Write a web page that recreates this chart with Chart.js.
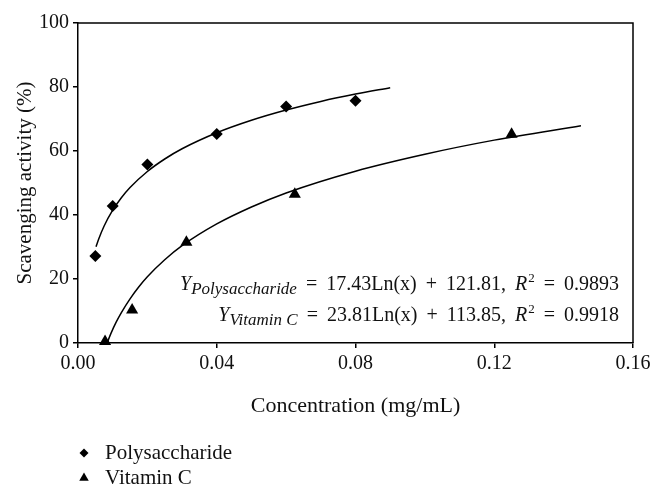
<!DOCTYPE html>
<html lang="en">
<head>
<meta charset="UTF-8">
<title>Scavenging activity</title>
<script src="https://cdn.jsdelivr.net/npm/chart.js"></script>
<style>
  body { margin: 0; background: #fff; }
  #chartBox { width: 662px; height: 499px; }
</style>
</head>
<body>
<div id="chartBox"><canvas id="scavCanvas" width="662" height="499"></canvas></div>
<script>
// measured points
const polyX = [0.005, 0.01, 0.02, 0.04, 0.06, 0.08];
const polyY = [27.2, 42.8, 55.8, 65.3, 73.9, 75.7];
const vitX = [0.0078, 0.0156, 0.03125, 0.0625, 0.125];
const vitY = [0.5, 10.3, 31.5, 46.5, 65.2];

// log trend lines
const polyFitX = [0.0052, 0.006, 0.0075, 0.01, 0.0125, 0.015, 0.02, 0.025, 0.03, 0.04, 0.05, 0.06, 0.07, 0.08, 0.09];
const polyFitY = [30.1, 32.6, 36.5, 41.5, 45.4, 48.6, 53.6, 57.5, 60.7, 65.7, 69.6, 72.8, 75.5, 77.8, 79.8];
const vitFitX = [0.0085, 0.0095, 0.011, 0.0125, 0.015, 0.0175, 0.02, 0.025, 0.03, 0.04, 0.05, 0.06, 0.08, 0.1, 0.12, 0.145];
const vitFitY = [0.3, 3.0, 6.5, 9.5, 13.8, 17.5, 20.7, 26.0, 30.4, 37.2, 42.5, 46.9, 53.7, 59.0, 63.4, 67.9];

const xTicks = [0, 0.04, 0.08, 0.12, 0.16];
const yTicks = [0, 20, 40, 60, 80, 100];

const seriesNames = ['Polysaccharide', 'Vitamin C'];
const equations = [
  { sub: 'Polysaccharide', slope: '17.43', icpt: '121.81', r2: '0.9893' },
  { sub: 'Vitamin C', slope: '23.81', icpt: '113.85', r2: '0.9918' }
];

const serif = '"Liberation Serif", "Times New Roman", serif';
const ink = '#111';

const toXY = (xs, ys) => xs.map((x, i) => ({ x: x, y: ys[i] }));

function marker(ctx, style, x, y, r) {
  ctx.beginPath();
  if (style === 'rectRot') {
    ctx.moveTo(x - r, y); ctx.lineTo(x, y - r); ctx.lineTo(x + r, y); ctx.lineTo(x, y + r);
  } else {
    const s = Math.sin(Math.PI / 3) * r;
    ctx.moveTo(x, y - r); ctx.lineTo(x + s, y + r / 2); ctx.lineTo(x - s, y + r / 2);
  }
  ctx.closePath();
  ctx.fill();
}

const framePlugin = {
  id: 'frame',
  beforeDatasetsDraw(chart) {
    const { ctx, chartArea: a } = chart;
    ctx.save();
    ctx.strokeStyle = '#000';
    ctx.lineWidth = 1.5;
    ctx.beginPath();
    ctx.moveTo(a.left, a.top);
    ctx.lineTo(a.right, a.top);
    ctx.lineTo(a.right, a.bottom);
    ctx.stroke();
    ctx.restore();
  }
};

const textPlugin = {
  id: 'notes',
  afterDraw(chart) {
    const ctx = chart.ctx;
    ctx.save();
    ctx.fillStyle = ink;
    ctx.textBaseline = 'alphabetic';

    // equations, right aligned
    const gap = 9;
    const rightEdge = 619;
    equations.forEach((eq, k) => {
      const base = 290 + k * 31;
      const parts = [
        ['Y', 'italic', 20, 0, 0],
        [eq.sub, 'italic', 17, 4, gap],
        ['=', 'normal', 20, 0, gap],
        [eq.slope + 'Ln(x)', 'normal', 20, 0, gap],
        ['+', 'normal', 20, 0, gap],
        [eq.icpt + ',', 'normal', 20, 0, gap],
        ['R', 'italic', 20, 0, 1],
        ['2', 'normal', 13, -8, gap],
        ['=', 'normal', 20, 0, gap],
        [eq.r2, 'normal', 20, 0, 0]
      ];
      let total = 0;
      parts.forEach(p => {
        ctx.font = p[1] + ' ' + p[2] + 'px ' + serif;
        p.w = ctx.measureText(p[0]).width;
        total += p.w + p[4];
      });
      let x = rightEdge - total;
      parts.forEach(p => {
        ctx.font = p[1] + ' ' + p[2] + 'px ' + serif;
        ctx.fillText(p[0], x, base + p[3]);
        x += p.w + p[4];
      });
    });

    // legend under the chart
    ctx.font = '21px ' + serif;
    ctx.textBaseline = 'middle';
    const styles = ['rectRot', 'triangle'];
    seriesNames.forEach((name, i) => {
      const y = 453 + i * 25;
      ctx.fillStyle = '#000';
      marker(ctx, styles[i], 84, y, styles[i] === 'rectRot' ? 4.5 : 5.5);
      ctx.fillStyle = ink;
      ctx.fillText(name, 105, y);
    });
    ctx.restore();
  }
};

new Chart(document.getElementById('scavCanvas'), {
  type: 'scatter',
  data: {
    datasets: [
      {
        label: seriesNames[0] + ' fit',
        data: toXY(polyFitX, polyFitY),
        showLine: true,
        borderColor: '#000',
        borderWidth: 1.5,
        pointRadius: 0,
        cubicInterpolationMode: 'monotone'
      },
      {
        label: seriesNames[1] + ' fit',
        data: toXY(vitFitX, vitFitY),
        showLine: true,
        borderColor: '#000',
        borderWidth: 1.5,
        pointRadius: 0,
        cubicInterpolationMode: 'monotone'
      },
      {
        label: seriesNames[0],
        data: toXY(polyX, polyY),
        pointStyle: 'rectRot',
        pointRadius: 6,
        backgroundColor: '#000',
        borderColor: '#000',
        borderWidth: 0,
        clip: false
      },
      {
        label: seriesNames[1],
        data: toXY(vitX, vitY),
        pointStyle: 'triangle',
        pointRadius: 7,
        backgroundColor: '#000',
        borderColor: '#000',
        borderWidth: 0,
        clip: false
      }
    ]
  },
  options: {
    responsive: false,
    animation: false,
    layout: { padding: { left: 0, top: 23, right: 29, bottom: 0 } },
    scales: {
      x: {
        type: 'linear',
        min: 0,
        max: 0.16,
        afterBuildTicks: s => { s.ticks = xTicks.map(v => ({ value: v })); },
        afterFit: s => { s.height = 156; },
        ticks: {
          color: ink,
          font: { family: serif, size: 20 },
          padding: 4,
          callback: v => v.toFixed(2)
        },
        grid: { drawOnChartArea: false, tickLength: 5, color: '#000', lineWidth: 1.5 },
        border: { color: '#000', width: 1.5 },
        title: {
          display: true,
          text: 'Concentration (mg/mL)',
          color: ink,
          font: { family: serif, size: 22 },
          padding: { top: 0, bottom: 80 }
        }
      },
      y: {
        min: 0,
        max: 100,
        afterBuildTicks: s => { s.ticks = yTicks.map(v => ({ value: v })); },
        afterFit: s => { s.width = 78; },
        ticks: {
          color: ink,
          font: { family: serif, size: 20 },
          padding: 4
        },
        grid: { drawOnChartArea: false, tickLength: 5, color: '#000', lineWidth: 1.5 },
        border: { color: '#000', width: 1.5 },
        title: {
          display: true,
          text: 'Scavenging activity (%)',
          color: ink,
          font: { family: serif, size: 21 },
          padding: { top: 13, bottom: 0 }
        }
      }
    },
    plugins: {
      legend: { display: false },
      tooltip: { enabled: false }
    }
  },
  plugins: [framePlugin, textPlugin]
});
</script>
</body>
</html>
